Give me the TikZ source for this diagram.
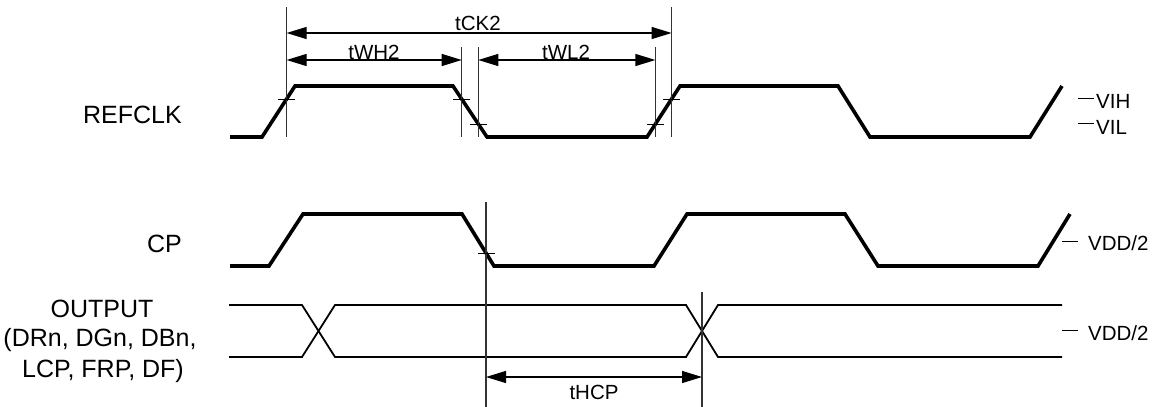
\documentclass[tikz,border=0pt]{standalone}
\usepackage{fontspec}
\setmainfont{Liberation Sans}
\usetikzlibrary{arrows.meta}
\begin{document}
\begin{tikzpicture}[x=1pt,y=-1pt,
  sig/.style={line width=3.6pt},
  dat/.style={line width=1.8pt},
  guide/.style={line width=1.1pt, black!80},
  tickm/.style={line width=0.9pt},
  dim/.style={line width=1.2pt, {Triangle[length=20pt,width=12pt]}-{Triangle[length=20pt,width=12pt]}},
  big/.style={font=\fontsize{25}{30}\selectfont, inner sep=0pt},
  small/.style={font=\fontsize{20.5}{24}\selectfont, inner sep=0pt},
]
\useasboundingbox (0,0) rectangle (1160,407);

% signal labels
\node[big, anchor=base east] (lref) at (182,123) {REFCLK};
\node[big, anchor=base east] (lcp) at (182,252) {CP};
\node[big, anchor=base] (lout1) at (102,317) {OUTPUT};
\node[big, anchor=base] (lout2) at (100,346) {(DRn, DGn, DBn,};
\node[big, anchor=base] (lout3) at (103,377) {LCP, FRP, DF)};

% REFCLK
\draw[sig] (230,137) -- (262,137) -- (295,86) -- (453,86) -- (487,137) -- (647,137)
  -- (680,86) -- (838,86) -- (870,137) -- (1030,137) -- (1062,86);
% CP
\draw[sig] (230,266) -- (269,266) -- (303,214) -- (462,214) -- (494,266) -- (654,266)
  -- (687,214) -- (845,214) -- (878,266) -- (1038,266) -- (1070,214);
% OUTPUT
\draw[dat] (229,305) -- (302,305) -- (335,357) -- (686,357) -- (718,305) -- (1062,305);
\draw[dat] (229,357) -- (302,357) -- (335,305) -- (686,305) -- (718,357) -- (1062,357);

% guide coordinates
\coordinate (v1t) at (286.6,7);   \coordinate (v1b) at (286.6,137);
\coordinate (v2t) at (461.7,47);  \coordinate (v2b) at (461.7,137);
\coordinate (v3t) at (478.3,47);  \coordinate (v3b) at (478.3,137);
\coordinate (v4t) at (655.4,47);  \coordinate (v4b) at (655.4,137);
\coordinate (v5t) at (671.6,7);   \coordinate (v5b) at (671.6,137);
\coordinate (vct) at (486,202);   \coordinate (vcb) at (486,407);
\coordinate (vot) at (702,292);   \coordinate (vob) at (702,407);

\foreach \v in {v1,v2,v3,v4,v5,vc,vo} \draw[guide] (\v t) -- (\v b);

% threshold ticks
\draw[tickm] (278,99) -- (295,99);
\draw[tickm] (453,99) -- (470,99);
\draw[tickm] (470,124) -- (487,124);
\draw[tickm] (647,124) -- (664,124);
\draw[tickm] (663,99) -- (680,99);
\draw[tickm] (478,253) -- (495,253);

% dimension arrows
\coordinate (a1l) at (286.6,33); \coordinate (a1r) at (671.6,33);
\coordinate (a2l) at (286.6,60); \coordinate (a2r) at (461.7,60);
\coordinate (a3l) at (478.3,60); \coordinate (a3r) at (655.4,60);
\coordinate (a4l) at (486,377);  \coordinate (a4r) at (702,377);
\draw[dim] (a1l) -- (a1r);
\draw[dim] (a2l) -- (a2r);
\draw[dim] (a3l) -- (a3r);
\draw[dim] (a4l) -- (a4r);

\node[small, anchor=base] (tck) at (478,30) {tCK2};
\node[small, anchor=base] (twh) at (374,59) {tWH2};
\node[small, anchor=base] (twl) at (566,59) {tWL2};
\node[small, anchor=base] (thcp) at (594,399) {tHCP};

% level labels
\draw[tickm] (1078,98) -- (1094,98);
\draw[tickm] (1078,123) -- (1094,123);
\node[small, anchor=base west] (vih) at (1096,108) {VIH};
\node[small, anchor=base west] (vil) at (1096,134) {VIL};
\draw[tickm] (1062,241) -- (1078,241);
\draw[tickm] (1062,330) -- (1078,330);
\node[small, anchor=base west] (vdd1) at (1088,250) {VDD/2};
\node[small, anchor=base west] (vdd2) at (1088,340) {VDD/2};
\end{tikzpicture}
\end{document}
